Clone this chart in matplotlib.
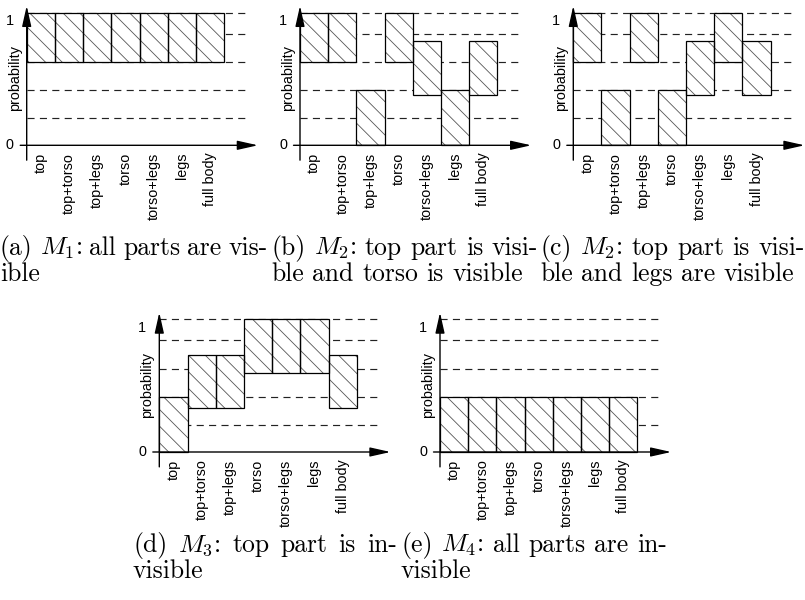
import numpy as np
import matplotlib
matplotlib.use('Agg')
import matplotlib.pyplot as plt

plt.rcParams['font.family'] = ['Liberation Sans', 'DejaVu Sans']
plt.rcParams['mathtext.fontset'] = 'cm'
plt.rcParams['hatch.linewidth'] = 0.6

# categories and the dashed reference levels
parts = ['top', 'top+torso', 'top+legs', 'torso', 'torso+legs', 'legs', 'full body']
levels = [0.22, 0.447, 0.673, 0.90, 1.07]

# bar ranges (bottom, top) per panel
a_low = [0.673] * 7
a_high = [1.07] * 7
b_low = [0.673, 0.673, 0.0, 0.673, 0.406, 0.0, 0.406]
b_high = [1.07, 1.07, 0.447, 1.07, 0.844, 0.447, 0.844]
c_low = [0.673, 0.0, 0.673, 0.0, 0.406, 0.673, 0.406]
c_high = [1.07, 0.447, 1.07, 0.447, 0.844, 1.07, 0.844]
d_low = [0.0, 0.352, 0.352, 0.64, 0.64, 0.64, 0.352]
d_high = [0.447, 0.785, 0.785, 1.07, 1.07, 1.07, 0.785]
e_low = [0.0] * 7
e_high = [0.447] * 7

captions = [
    ['(a) $M_1$: all parts are vis-', 'ible'],
    ['(b) $M_2$: top part is visi-', 'ble and torso is visible'],
    ['(c) $M_2$: top part is visi-', 'ble and legs are visible'],
    ['(d) $M_3$: top part is in-', 'visible'],
    ['(e) $M_4$: all parts are in-', 'visible'],
]

W, H = 805, 600
fig = plt.figure(figsize=(W / 100, H / 100), dpi=100)

UX, UY = 28.2, 124.0          # px per bar / px per unit probability
XL, YL = (-1.0, 8.5), (-0.2, 1.2)
FS = 10.4


def panel(x0, y0, low, high):
    left = x0 + XL[0] * UX
    top = y0 - YL[1] * UY
    w = (XL[1] - XL[0]) * UX
    h = (YL[1] - YL[0]) * UY
    ax = fig.add_axes([left / W, 1 - (top + h) / H, w / W, h / H])
    ax.set_xlim(*XL)
    ax.set_ylim(*YL)
    ax.axis('off')

    ax.hlines(levels, 0, 7.8, colors='#222222', lw=0.85,
              linestyles=(0, (6, 4.5)), zorder=1)

    x = np.arange(len(parts)) + 0.5
    low = np.array(low)
    high = np.array(high)
    ax.bar(x, high - low, bottom=low, width=1, facecolor='white',
           edgecolor='#555555', hatch='\\\\', lw=0, zorder=2)
    ax.bar(x, high - low, bottom=low, width=1, fill=False,
           edgecolor='black', lw=0.9, zorder=3)

    arrow = dict(arrowstyle='-|>,head_length=1.25,head_width=0.28',
                 color='black', lw=1.0, shrinkA=0, shrinkB=0)
    ax.annotate('', xy=(8.2, 0), xytext=(-0.23, 0), arrowprops=arrow,
                annotation_clip=False, zorder=5)
    ax.annotate('', xy=(0, 1.125), xytext=(0, -0.12), arrowprops=arrow,
                annotation_clip=False, zorder=5)

    ax.text(-0.6, 1, '1', ha='center', va='center', fontsize=FS)
    ax.text(-0.6, 0, '0', ha='center', va='center', fontsize=FS)
    ax.text(-0.43, 0.54, 'probability', rotation=90, ha='center',
            va='center', fontsize=FS)
    for xi, lab in zip(x, parts):
        ax.text(xi, -0.06, lab, rotation=90, ha='center', va='top',
                fontsize=FS)
    return ax


panel(26.7, 145.3, a_low, a_high)
panel(300.0, 145.3, b_low, b_high)
panel(573.3, 145.3, c_low, c_high)
panel(159.3, 452.0, d_low, d_high)
panel(440.0, 452.0, e_low, e_high)

# caption boxes: left, right, first baseline (pixels)
cap_box = [(0, 268, 255), (271, 538, 255), (540, 805, 255),
           (133, 397, 552), (401, 667, 552)]
LINE = 26
renderer = fig.canvas.get_renderer()
for (cx0, cx1, cy), lines in zip(cap_box, captions):
    for k, line in enumerate(lines):
        words = line.split(' ')
        y = 1 - (cy + k * LINE) / H
        texts = [fig.text(0, y, wd, family='cmr10', fontsize=18.5,
                          ha='left', va='baseline') for wd in words]
        widths = [t.get_window_extent(renderer).width for t in texts]
        if k == 0 and len(words) > 1:
            # first line is set full width, as in the justified original
            gap = (cx1 - cx0 - sum(widths)) / (len(words) - 1)
        else:
            gap = 8.5
        xpos = cx0
        for t, wd in zip(texts, widths):
            t.set_x(xpos / W)
            xpos += wd + gap

fig.savefig('out.png', dpi=100)
